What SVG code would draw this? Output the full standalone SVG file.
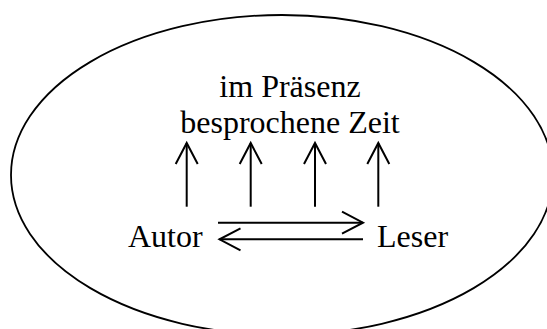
<svg xmlns="http://www.w3.org/2000/svg" width="547" height="329" viewBox="0 0 547 329">
<style>
  .lbl { font-family: "Liberation Serif", "Times New Roman", serif; font-size: 32px; fill: #000; }
  .conn { stroke: #000; stroke-width: 2; fill: none; }
</style>
<defs>
  <marker id="vhead" markerUnits="userSpaceOnUse" markerWidth="26" markerHeight="26" refX="21" refY="11" orient="auto" overflow="visible">
    <path d="M0,0 L21,11 L0,22" fill="none" stroke="#000" stroke-width="2"/>
  </marker>
</defs>
<rect width="547" height="329" fill="#fff"/>
<g id="frame">
  <ellipse cx="282" cy="175" rx="271" ry="160" fill="none" stroke="#000" stroke-width="1.8"/>
</g>
<g id="zeit">
  <text class="lbl" x="290" y="97" text-anchor="middle">im Präsenz</text>
  <text class="lbl" x="290" y="133" text-anchor="middle">besprochene Zeit</text>
</g>
<g id="autor">
  <text class="lbl" x="128" y="247">Autor</text>
</g>
<g id="leser">
  <text class="lbl" x="377" y="247">Leser</text>
</g>
<g id="connectors">
  <line class="conn" x1="186.7" y1="206.7" x2="186.7" y2="143" marker-end="url(#vhead)"/>
  <line class="conn" x1="250.7" y1="206.7" x2="250.7" y2="143" marker-end="url(#vhead)"/>
  <line class="conn" x1="315" y1="206.7" x2="315" y2="143" marker-end="url(#vhead)"/>
  <line class="conn" x1="378.3" y1="206.7" x2="378.3" y2="143" marker-end="url(#vhead)"/>
  <line class="conn" x1="218" y1="222.7" x2="363" y2="222.7" marker-end="url(#vhead)"/>
  <line class="conn" x1="363" y1="239.3" x2="219.5" y2="239.3" marker-end="url(#vhead)"/>
</g>
</svg>
